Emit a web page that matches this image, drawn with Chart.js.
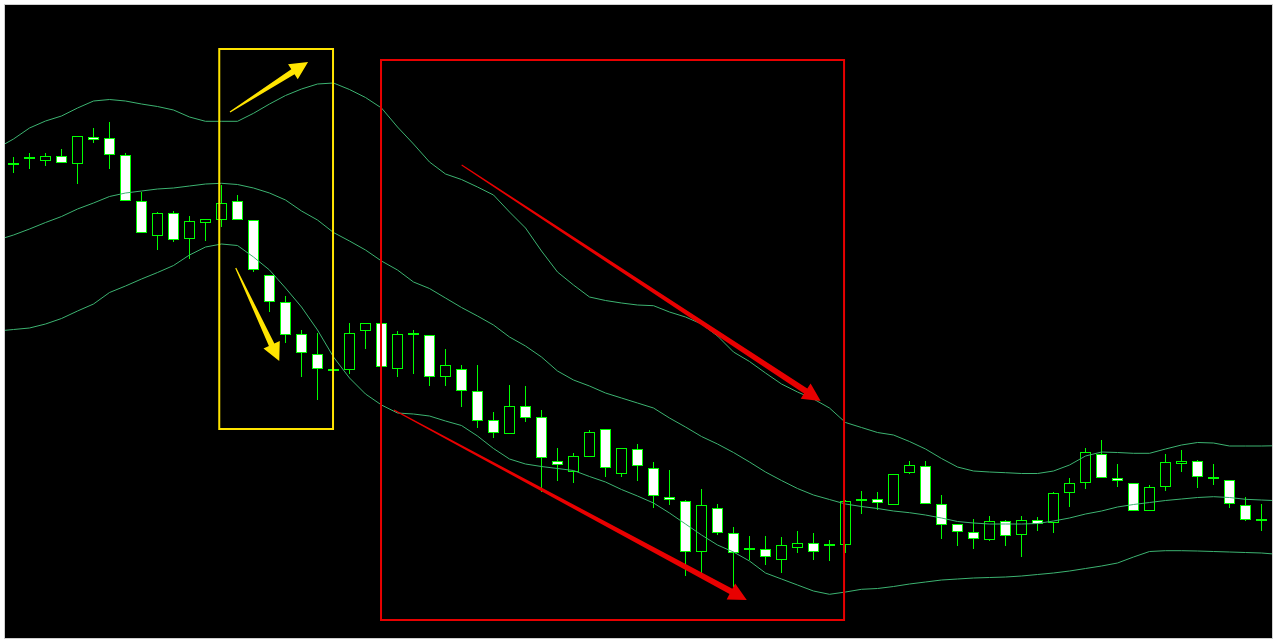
<!DOCTYPE html>
<html>
<head>
<meta charset="utf-8">
<script src="https://cdn.jsdelivr.net/npm/chart.js@4.4.1/dist/chart.umd.min.js"></script>
<style>
  html, body { margin: 0; padding: 0; background: #fff; }
  #wrap { position: absolute; left: 4px; top: 4px; width: 1267px; height: 633px; border: 1px solid #cfcfcf; background: #000; }
  canvas { display: block; }
</style>
</head>
<body>
<div id="wrap"><canvas id="chart" width="1267" height="633"></canvas></div>
<script>
// candles, oldest first (price in points)
const candle_open  = [476,481,479,484,476,503,502,485,439,404,427,401,417,420,439,420,365,338,306,286,
                      269,270,309,317,271,306,305,263,271,249,220,206,234,223,179,168,183,211,166,191,
                      172,143,139,88,132,107,91,91,80,92,97,95,95,140,141,135,167,174,136,116,
                      108,100,119,105,120,117,147,157,186,162,157,129,153,176,179,162,160,135,120];
const candle_high  = [483,487,487,491,504,512,518,487,448,428,429,424,421,455,445,420,365,344,310,307,
                      271,317,317,317,309,310,305,291,275,275,228,255,254,230,192,187,210,211,192,196,
                      178,170,140,151,136,113,104,104,103,109,107,100,140,149,148,166,179,179,145,116,
                      121,124,120,124,123,148,162,192,200,176,157,155,186,190,180,176,160,143,136];
const candle_low   = [467,471,474,477,456,497,471,439,407,390,398,381,399,413,420,368,328,297,263,240,
                      269,266,291,273,263,266,254,254,233,212,202,206,218,148,159,157,183,163,163,159,
                      132,135,64,67,105,53,80,75,67,87,80,79,87,126,130,135,166,136,101,94,
                      91,99,94,83,109,107,133,151,162,153,129,129,149,168,152,155,132,119,109];
const candle_close = [476,483,484,477,504,500,485,439,407,427,400,419,421,437,420,370,338,305,287,271,
                      271,307,317,273,306,306,263,275,249,219,207,234,222,182,175,184,208,172,192,174,
                      144,140,88,135,107,87,91,83,95,97,88,95,139,140,137,166,175,136,115,108,
                      101,119,104,120,116,147,157,188,162,159,129,153,178,179,163,162,136,120,120];

// bollinger bands, first value belongs to the bar before the first candle
const band_start = -1;
const band_upper  = [492,501,512,519,524,532,539,540.5,539,536,533.5,530,523,518.7,518.7,518.7,526.7,536,544.5,551,
                     556,557,550.5,542.5,532,513,496,478,466,460.5,453,445,428,412,389,368,355,343,339.5,337,
                     335,334.3,328,323,316,304,288,278.5,267,256,248,241,232,217.5,212.5,207.5,205,198.5,191,181.5,
                     173,169,168,167.3,166.5,166.5,169,175,184,188,187.5,186.7,186.7,191,195,197.5,197,194,194,194,194.3];
const band_middle = [400,405,411,417.5,423.5,431,437,443.5,447,449,451,452,454,456,456.7,455.5,452,447,440,429,
                     420,407.5,399,390,379,370,358,351.5,342,332.5,324,315,303,294,283,269,260,254,247,242,
                     237,232,222,213,203.5,196,187.5,178,168,159.5,151.5,145,140.5,136,133.5,131.5,129,127.3,125,122,
                     118.5,117,116,116,116,116.5,119,122,126,129,133,135.5,137.5,139.5,141,142.5,143.3,142.5,140.7,140,139.3];
const band_lower  = [309,310.5,312,316,321.5,329,336,347.5,354,361,367.5,374.5,385,393,396,394.5,383,370,352,333,
                     310,283,262,246,235,227,226,224,219,214.5,204,191.5,181,176,173.5,171.5,169.5,163.5,158,150.5,
                     144,137,127,116,105,95,88,79,67,61,55,49,45.7,48,50.7,51.5,53.5,56,58,60,
                     61,62,62.5,63,64,65.5,67,69,71.5,74,77,83,88.5,89.3,89.3,89,88.5,88,87.5,87,85.7];

// drawn markup, in bar index / price units
const boxes = [
    { from: 12.86, to: 19.97, high: 591, low: 211, color: '#ffe400' },
    { from: 22.97, to: 51.91, high: 580, low: 20,  color: '#e80000' }
];
const arrows = [
    { x0: 13.53, y0: 528, x1: 18.41, y1: 578, color: '#ffe400' },
    { x0: 13.89, y0: 372, x1: 16.61, y1: 279, color: '#ffe400' },
    { x0: 28.01, y0: 475, x1: 50.45, y1: 239, color: '#e80000' },
    { x0: 23.78, y0: 230, x1: 45.83, y1: 40,  color: '#e80000' }
];

const candle_green = '#00ff00';
const band_color = '#3cb371';

const idx = candle_open.map((_, i) => i);
const wick_data = idx.map(i => ({ x: i, y: [candle_low[i], candle_high[i]] }));
const body_data = idx.map(i => ({ x: i, y: [candle_open[i], candle_close[i]] }));
const body_fill = idx.map(i => candle_close[i] < candle_open[i] ? '#ffffff' : '#000000');
const doji_data = idx.filter(i => candle_open[i] === candle_close[i]).map(i => ({ x: i, y: candle_open[i] }));
const band_points = arr => arr.map((v, k) => ({ x: band_start + k, y: v }));

function draw_arrow(ctx, ax, ay, bx, by, color) {
    const len = Math.hypot(bx - ax, by - ay);
    const dx = (bx - ax) / len, dy = (by - ay) / len;
    const nx = -dy, ny = dx;
    const head = 18, wing = 9, w0 = 0.6, w1 = 3;
    const cx = bx - dx * head, cy = by - dy * head;
    ctx.beginPath();
    ctx.moveTo(ax + nx * w0, ay + ny * w0);
    ctx.lineTo(cx + nx * w1, cy + ny * w1);
    ctx.lineTo(cx + nx * wing, cy + ny * wing);
    ctx.lineTo(bx, by);
    ctx.lineTo(cx - nx * wing, cy - ny * wing);
    ctx.lineTo(cx - nx * w1, cy - ny * w1);
    ctx.lineTo(ax - nx * w0, ay - ny * w0);
    ctx.closePath();
    ctx.fillStyle = color;
    ctx.fill();
}

const markup_plugin = {
    id: 'markup',
    afterDatasetsDraw(chart) {
        const ctx = chart.ctx;
        const xs = chart.scales.x, ys = chart.scales.y;
        ctx.save();
        boxes.forEach(b => {
            const l = xs.getPixelForValue(b.from), r = xs.getPixelForValue(b.to);
            const t = ys.getPixelForValue(b.high), btm = ys.getPixelForValue(b.low);
            ctx.strokeStyle = b.color;
            ctx.lineWidth = 2;
            ctx.strokeRect(l, t, r - l, btm - t);
        });
        arrows.forEach(a => {
            draw_arrow(ctx,
                xs.getPixelForValue(a.x0), ys.getPixelForValue(a.y0),
                xs.getPixelForValue(a.x1), ys.getPixelForValue(a.y1), a.color);
        });
        ctx.restore();
    }
};

const band_set = (data) => ({
    type: 'line', data: band_points(data), borderColor: band_color, borderWidth: 1,
    pointRadius: 0, tension: 0, order: 1
});

new Chart(document.getElementById('chart').getContext('2d'), {
    type: 'bar',
    data: {
        datasets: [
            band_set(band_upper),
            band_set(band_middle),
            band_set(band_lower),
            {
                type: 'line', data: doji_data, showLine: false, pointStyle: 'line',
                pointRadius: 5.5, pointBorderWidth: 2, pointBorderColor: candle_green, order: 2
            },
            {
                data: body_data, backgroundColor: body_fill, borderColor: candle_green, borderWidth: 1,
                borderSkipped: false, barThickness: 11, grouped: false, inflateAmount: 0, order: 2
            },
            {
                data: wick_data, backgroundColor: candle_green, borderWidth: 0,
                barThickness: 1, grouped: false, inflateAmount: 0, order: 3
            }
        ]
    },
    options: {
        responsive: false,
        animation: false,
        events: [],
        layout: { padding: 0, autoPadding: false },
        plugins: { legend: { display: false }, tooltip: { enabled: false } },
        scales: {
            x: { type: 'linear', min: -0.53125, max: 78.65625, offset: false, display: false },
            y: { type: 'linear', min: 2, max: 635, display: false }
        }
    },
    plugins: [markup_plugin]
});
</script>
</body>
</html>
